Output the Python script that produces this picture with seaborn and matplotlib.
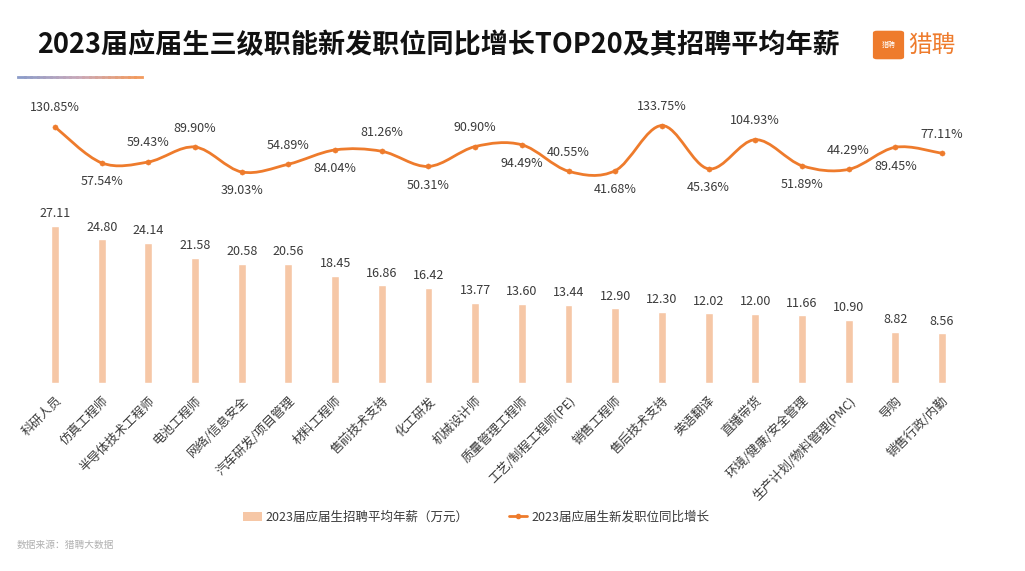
import matplotlib
matplotlib.use("Agg")
import matplotlib.pyplot as plt
import numpy as np
import pandas as pd
import seaborn as sns
from matplotlib.path import Path
from matplotlib.patches import PathPatch, FancyBboxPatch, Patch
from matplotlib.lines import Line2D
from matplotlib.collections import LineCollection
from matplotlib.colors import LinearSegmentedColormap

sns.set_theme(style="white")
plt.rcParams["font.family"] = ["Noto Sans CJK SC", "DejaVu Sans"]

# data
jobs = ["科研人员", "仿真工程师", "半导体技术工程师", "电池工程师", "网络/信息安全",
        "汽车研发/项目管理", "材料工程师", "售前技术支持", "化工研发", "机械设计师",
        "质量管理工程师", "工艺/制程工程师(PE)", "销售工程师", "售后技术支持", "英语翻译",
        "直播带货", "环境/健康/安全管理", "生产计划/物料管理(PMC)", "导购", "销售行政/内勤"]
salary = [27.11, 24.80, 24.14, 21.58, 20.58, 20.56, 18.45, 16.86, 16.42, 13.77,
          13.60, 13.44, 12.90, 12.30, 12.02, 12.00, 11.66, 10.90, 8.82, 8.56]
growth = [130.85, 57.54, 59.43, 89.90, 39.03, 54.89, 84.04, 81.26, 50.31, 90.90,
          94.49, 40.55, 41.68, 133.75, 45.36, 104.93, 51.89, 44.29, 89.45, 77.11]

# label placement for the growth line: 1 above, -1 below
label_side = [1, -1, 1, 1, -1, 1, -1, 1, -1, 1, -1, 1, -1, 1, -1, 1, -1, 1, -1, 1]

BAR_C = "#F6C7A6"
LINE_C = "#EE7B2C"
TXT_C = "#3A3A3A"

df = pd.DataFrame({"job": jobs, "salary": salary, "growth": growth})

W, H = 1025, 571
fig = plt.figure(figsize=(W / 100, H / 100), dpi=100)
ax = fig.add_axes([31.7 / W, 1 - 383 / H, (965.3 - 31.7) / W, 283 / H])

sns.barplot(data=df, x="job", y="salary", color=BAR_C, width=0.17, ax=ax, saturation=1)
ax.set_xlim(-0.5, len(jobs) - 0.5)
ax.set_ylim(0, 48.87)
for i, v in enumerate(salary):
    ax.text(i, v + 1.0, f"{v:.2f}", ha="center", va="bottom", fontsize=9, color=TXT_C)
ax.set_xlabel("")
ax.set_ylabel("")
ax.set_yticks([])
ax.tick_params(axis="x", length=0, pad=8)
ax.set_xticks(range(len(jobs)))
ax.set_xticklabels(jobs, rotation=45, ha="right", rotation_mode="anchor",
                   fontsize=9, color=TXT_C)
for s in ax.spines.values():
    s.set_visible(False)

# growth line on twin axis, smooth curve through the points
ax2 = ax.twinx()
ax2.set_ylim(-391.6, 185.9)
ax2.set_yticks([])
for s in ax2.spines.values():
    s.set_visible(False)

xs = np.arange(len(growth), dtype=float)
ys = np.array(growth, dtype=float)
verts = [(xs[0], ys[0])]
codes = [Path.MOVETO]
for i in range(len(xs) - 1):
    p0 = np.array([xs[max(i - 1, 0)], ys[max(i - 1, 0)]])
    p1 = np.array([xs[i], ys[i]])
    p2 = np.array([xs[i + 1], ys[i + 1]])
    p3 = np.array([xs[min(i + 2, len(xs) - 1)], ys[min(i + 2, len(xs) - 1)]])
    c1 = p1 + (p2 - p0) / 6
    c2 = p2 - (p3 - p1) / 6
    verts += [tuple(c1), tuple(c2), tuple(p2)]
    codes += [Path.CURVE4] * 3
ax2.add_patch(PathPatch(Path(verts, codes), facecolor="none", edgecolor=LINE_C, lw=2))
sns.scatterplot(x=xs, y=ys, ax=ax2, color=LINE_C, s=14, edgecolor=LINE_C, zorder=3)

for i, v in enumerate(growth):
    off = 9 if label_side[i] > 0 else -9
    ax2.annotate(f"{v:.2f}%", (i, v), xytext=(0, off), textcoords="offset points",
                 ha="center", va="bottom" if off > 0 else "top", fontsize=9, color=TXT_C)

# title, underline and logo
fig.text(37 / W, 1 - 45 / H, "2023届应届生三级职能新发职位同比增长TOP20及其招聘平均年薪",
         fontsize=19.5, fontweight="bold", color="#111111", va="center", ha="left")
n = 20
gx = np.linspace(18 / W, 142 / W, n)
segs = [[(gx[k], 1 - 77 / H), (gx[k + 1], 1 - 77 / H)] for k in range(n - 1)]
ul_cmap = LinearSegmentedColormap.from_list("ul", ["#8C9CC9", "#C9A8B8", "#F29A5E"])
grad = ul_cmap(np.linspace(0, 1, n - 1))
fig.add_artist(LineCollection(segs, colors=grad, linewidths=2, capstyle="projecting",
                              transform=fig.transFigure))

fig.patches.append(FancyBboxPatch((877 / W, 1 - 57 / H), 23 / W, 24 / H,
                                  boxstyle="round,pad=0.004", fc=LINE_C, ec="none",
                                  transform=fig.transFigure))
fig.text(888.5 / W, 1 - 45 / H, "猎聘", fontsize=5, color="white", ha="center", va="center")
fig.text(908 / W, 1 - 45 / H, "猎聘", fontsize=17, color=LINE_C, ha="left", va="center")

# legend
handles = [Patch(facecolor=BAR_C, edgecolor="none"),
           Line2D([0], [0], color=LINE_C, lw=2, marker="o", markersize=3)]
fig.legend(handles, ["2023届应届生招聘平均年薪（万元）", "2023届应届生新发职位同比增长"],
           loc="center", bbox_to_anchor=(476 / W, 1 - 517 / H), ncol=2, frameon=False,
           fontsize=9, handlelength=1.5, handletextpad=0.3, columnspacing=3.2,
           labelcolor=TXT_C)

fig.text(17 / W, 1 - 545 / H, "数据来源：猎聘大数据", fontsize=7, color="#B0B0B0",
         ha="left", va="center")

fig.savefig("out.png", dpi=100)
